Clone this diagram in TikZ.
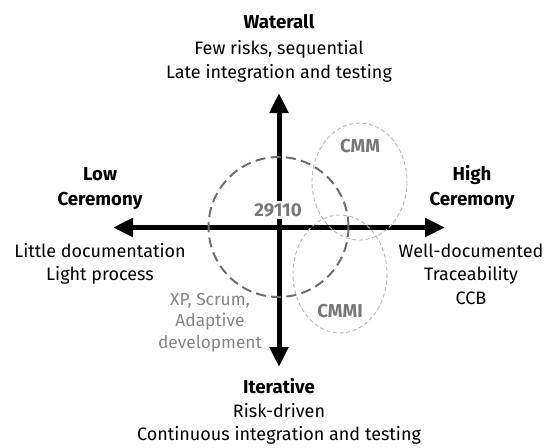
\documentclass[tikz,border=0pt]{standalone}
\usepackage{fontspec}
\setmainfont{Fira Sans}
\usetikzlibrary{arrows.meta}
\definecolor{dgray}{HTML}{6E6E6E}
\definecolor{lgray}{HTML}{B8B8B8}
\definecolor{tgray}{HTML}{777777}
\definecolor{mgray}{HTML}{858585}
\tikzset{
  head/.style={font=\fontsize{14}{17}\selectfont\bfseries, anchor=base, inner sep=0pt},
  desc/.style={font=\fontsize{13.5}{17}\selectfont, anchor=base, inner sep=0pt},
  glab/.style={font=\fontsize{14}{17}\selectfont\bfseries, text=tgray, anchor=base, inner sep=0pt},
  method/.style={font=\fontsize{13}{15}\selectfont, text=mgray, anchor=base, inner sep=0pt},
  axisline/.style={line width=3.75pt, arrows={Triangle[length=15pt,width=13.5pt]-Triangle[length=15pt,width=13.5pt]}},
  bigcirc/.style={draw=dgray, line width=1.5pt, dash pattern=on 7.5pt off 4pt},
  smallell/.style={draw=lgray, line width=0.7pt, dash pattern=on 3pt off 2pt},
}
\begin{document}
\begin{tikzpicture}[x=0.75pt,y=-0.75pt]
\path[use as bounding box] (0,0) rectangle (550,447);
% axes
\coordinate (top) at (279,93);
\coordinate (bot) at (279,367);
\coordinate (lft) at (113,227.5);
\coordinate (rgt) at (445,227.5);
\draw[axisline] (bot) -- (top);
\draw[axisline] (lft) -- (rgt);
% circles
\draw[bigcirc] (278.5,227) circle[radius=70];
\draw[smallell] (359.5,181.5) ellipse[x radius=47.5, y radius=58.5];
\draw[smallell] (340,274) ellipse[x radius=47, y radius=59];
% grey labels
\node[glab, fill=white, inner sep=1.5pt] (n29110) at (278,216) {29110};
\node[glab] (cmm) at (360,152) {CMM};
\node[glab] (cmmi) at (340,317) {CMMI};
\node[method] (xp1) at (210,305) {XP, Scrum,};
\node[method] (xp2) at (210,326.5) {Adaptive};
\node[method] (xp3) at (210,348) {development};
% top
\node[head] (wat) at (279,28) {Waterall};
\node[desc] (wat1) at (279,54) {Few risks, sequential};
\node[desc] (wat2) at (279,78) {Late integration and testing};
% left
\node[head] (low1) at (100,180) {Low};
\node[head] (low2) at (100,205) {Ceremony};
\node[desc] (low3) at (100,257) {Little documentation};
\node[desc] (low4) at (100,280) {Light process};
% right
\node[head] (high1) at (472,180) {High};
\node[head] (high2) at (472,205) {Ceremony};
\node[desc] (high3) at (471,257) {Well-documented};
\node[desc] (high4) at (471,280) {Traceability};
\node[desc] (high5) at (471,304) {CCB};
% bottom
\node[head] (it) at (279,393) {Iterative};
\node[desc] (it1) at (279,417) {Risk-driven};
\node[desc] (it2) at (279,440) {Continuous integration and testing};
\end{tikzpicture}
\end{document}
